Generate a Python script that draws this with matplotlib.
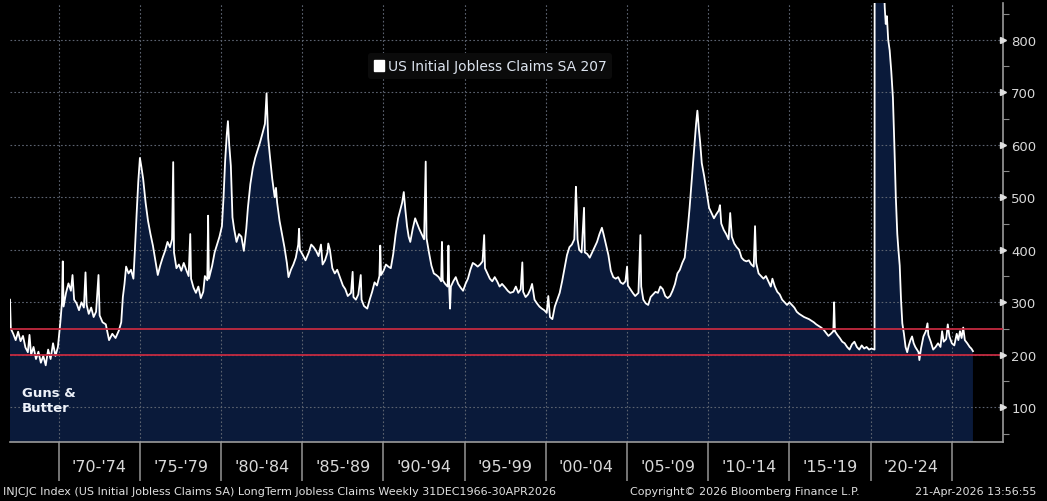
import matplotlib
matplotlib.use("Agg")
import matplotlib.pyplot as plt
from matplotlib.patches import Patch
import numpy as np

#------------------------------------ DATA ------------------------------------
# weekly-ish readings (thousands), fractional year -> claims
years = [
    1967.00, 1967.05, 1967.20, 1967.35, 1967.50, 1967.65, 1967.80, 1967.95,
    1968.10, 1968.20, 1968.30, 1968.45, 1968.60, 1968.75, 1968.90, 1969.05,
    1969.20, 1969.35, 1969.50, 1969.65, 1969.80, 1969.95, 1970.10, 1970.20,
    1970.25, 1970.30, 1970.45, 1970.60, 1970.75, 1970.85, 1970.95, 1971.10,
    1971.25, 1971.40, 1971.55, 1971.65, 1971.72, 1971.85, 1972.00, 1972.15,
    1972.30, 1972.45, 1972.52, 1972.70, 1972.90, 1973.10, 1973.30, 1973.50,
    1973.70, 1973.85, 1973.95, 1974.05, 1974.15, 1974.30, 1974.45, 1974.60,
    1974.70, 1974.80, 1974.90, 1975.00, 1975.08, 1975.20, 1975.35, 1975.50,
    1975.65, 1975.80, 1975.95, 1976.10, 1976.25, 1976.40, 1976.55, 1976.70,
    1976.85, 1976.98, 1977.05, 1977.10, 1977.25, 1977.40, 1977.55, 1977.70,
    1977.85, 1978.00, 1978.10, 1978.15, 1978.30, 1978.45, 1978.60, 1978.75,
    1978.90, 1979.00, 1979.15, 1979.20, 1979.25, 1979.45, 1979.60, 1979.75,
    1979.90, 1980.05, 1980.15, 1980.25, 1980.35, 1980.42, 1980.50, 1980.60,
    1980.70, 1980.80, 1980.95, 1981.10, 1981.25, 1981.40, 1981.55, 1981.65,
    1981.80, 1981.95, 1982.10, 1982.25, 1982.40, 1982.55, 1982.70, 1982.80,
    1982.90, 1983.00, 1983.15, 1983.30, 1983.38, 1983.45, 1983.60, 1983.75,
    1983.90, 1984.05, 1984.15, 1984.30, 1984.45, 1984.60, 1984.75, 1984.80,
    1984.85, 1985.00, 1985.20, 1985.40, 1985.55, 1985.70, 1985.85, 1986.00,
    1986.15, 1986.25, 1986.40, 1986.55, 1986.60, 1986.70, 1986.85, 1987.00,
    1987.15, 1987.35, 1987.50, 1987.65, 1987.80, 1988.00, 1988.10, 1988.15,
    1988.30, 1988.45, 1988.60, 1988.65, 1988.80, 1989.00, 1989.15, 1989.30,
    1989.45, 1989.60, 1989.75, 1989.80, 1989.85, 1990.00, 1990.15, 1990.30,
    1990.45, 1990.60, 1990.75, 1990.90, 1991.05, 1991.15, 1991.25, 1991.35,
    1991.45, 1991.55, 1991.65, 1991.80, 1991.95, 1992.05, 1992.20, 1992.35,
    1992.50, 1992.60, 1992.65, 1992.80, 1992.95, 1993.10, 1993.25, 1993.40,
    1993.55, 1993.60, 1993.65, 1993.80, 1993.95, 1994.00, 1994.05, 1994.10,
    1994.15, 1994.30, 1994.45, 1994.60, 1994.75, 1994.90, 1995.05, 1995.20,
    1995.35, 1995.50, 1995.65, 1995.80, 1995.95, 1996.10, 1996.20, 1996.25,
    1996.40, 1996.55, 1996.70, 1996.85, 1997.00, 1997.15, 1997.30, 1997.50,
    1997.65, 1997.80, 1998.00, 1998.15, 1998.30, 1998.45, 1998.55, 1998.60,
    1998.75, 1998.90, 1999.05, 1999.15, 1999.30, 1999.45, 1999.60, 1999.75,
    1999.90, 2000.05, 2000.15, 2000.25, 2000.40, 2000.55, 2000.70, 2000.85,
    2001.00, 2001.15, 2001.30, 2001.45, 2001.60, 2001.75, 2001.85, 2001.90,
    2001.95, 2002.05, 2002.20, 2002.35, 2002.40, 2002.55, 2002.70, 2002.85,
    2003.00, 2003.15, 2003.30, 2003.45, 2003.55, 2003.70, 2003.85, 2004.00,
    2004.15, 2004.30, 2004.45, 2004.60, 2004.75, 2004.90, 2005.00, 2005.05,
    2005.20, 2005.35, 2005.50, 2005.70, 2005.82, 2005.87, 2006.00, 2006.15,
    2006.30, 2006.45, 2006.60, 2006.75, 2006.90, 2007.05, 2007.20, 2007.35,
    2007.50, 2007.65, 2007.80, 2007.95, 2008.10, 2008.25, 2008.40, 2008.55,
    2008.65, 2008.75, 2008.85, 2008.95, 2009.05, 2009.15, 2009.25, 2009.33,
    2009.42, 2009.50, 2009.60, 2009.75, 2009.90, 2010.05, 2010.20, 2010.35,
    2010.50, 2010.65, 2010.72, 2010.80, 2010.95, 2011.10, 2011.25, 2011.35,
    2011.45, 2011.60, 2011.75, 2011.90, 2012.05, 2012.20, 2012.35, 2012.50,
    2012.65, 2012.80, 2012.88, 2012.95, 2013.10, 2013.25, 2013.40, 2013.55,
    2013.70, 2013.85, 2013.95, 2014.10, 2014.25, 2014.40, 2014.55, 2014.70,
    2014.85, 2015.00, 2015.15, 2015.30, 2015.45, 2015.60, 2015.75, 2015.90,
    2016.05, 2016.20, 2016.35, 2016.50, 2016.65, 2016.80, 2016.95, 2017.10,
    2017.25, 2017.40, 2017.55, 2017.70, 2017.75, 2017.80, 2017.95, 2018.10,
    2018.25, 2018.40, 2018.55, 2018.70, 2018.85, 2019.00, 2019.15, 2019.30,
    2019.45, 2019.60, 2019.75, 2019.90, 2020.05, 2020.24, 2020.26, 2020.28,
    2020.31, 2020.34, 2020.37, 2020.42, 2020.47, 2020.52, 2020.57, 2020.62,
    2020.67, 2020.72, 2020.77, 2020.82, 2020.87, 2020.93, 2021.00, 2021.08,
    2021.17, 2021.27, 2021.37, 2021.46, 2021.55, 2021.64, 2021.71, 2021.79,
    2021.87, 2021.95, 2022.05, 2022.15, 2022.25, 2022.35, 2022.45, 2022.55,
    2022.65, 2022.75, 2022.85, 2022.95, 2023.00, 2023.10, 2023.25, 2023.40,
    2023.50, 2023.55, 2023.70, 2023.85, 2024.00, 2024.15, 2024.30, 2024.40,
    2024.50, 2024.65, 2024.75, 2024.85, 2025.00, 2025.15, 2025.30, 2025.40,
    2025.50, 2025.60, 2025.70, 2025.80, 2025.95, 2026.10, 2026.20, 2026.30,
]
claims = [
    305, 250, 240, 228, 244, 226, 236, 214,
    205, 238, 200, 215, 192, 206, 185, 198,
    180, 210, 192, 222, 198, 215, 262, 300,
    378, 292, 318, 336, 322, 352, 305, 298,
    285, 300, 290, 357, 295, 278, 290, 272,
    282, 352, 275, 262, 258, 228, 240, 232,
    246, 262, 310, 335, 368, 355, 362, 345,
    405, 470, 530, 575, 560, 535, 490, 455,
    430, 408, 380, 352, 370, 385, 398, 415,
    405, 420, 567, 395, 365, 372, 360, 375,
    362, 350, 430, 345, 328, 318, 330, 308,
    320, 350, 342, 465, 345, 370, 395, 410,
    425, 445, 500, 570, 620, 645, 600, 560,
    462, 440, 415, 430, 425, 398, 440, 480,
    525, 555, 575, 590, 605, 622, 640, 698,
    612, 580, 535, 500, 518, 490, 455, 430,
    405, 375, 348, 362, 372, 385, 410, 440,
    400, 392, 380, 395, 410, 405, 398, 388,
    410, 372, 380, 395, 412, 400, 365, 355,
    362, 345, 332, 325, 312, 318, 358, 310,
    305, 315, 352, 305, 293, 288, 305, 320,
    338, 332, 350, 408, 352, 360, 372, 368,
    365, 392, 430, 460, 478, 490, 510, 475,
    445, 425, 415, 440, 460, 452, 440, 430,
    420, 568, 422, 395, 370, 355, 352, 348,
    340, 415, 342, 335, 330, 408, 325, 288,
    330, 340, 348, 335, 328, 322, 335, 345,
    362, 375, 372, 368, 372, 378, 428, 365,
    355, 345, 340, 348, 340, 330, 335, 328,
    322, 318, 320, 330, 318, 325, 376, 320,
    310, 315, 325, 335, 305, 298, 292, 288,
    285, 280, 312, 272, 268, 292, 305, 318,
    340, 365, 390, 405, 410, 420, 520, 480,
    420, 400, 395, 480, 395, 392, 385, 395,
    405, 415, 430, 442, 430, 410, 390, 360,
    348, 345, 348, 338, 335, 340, 368, 332,
    325, 318, 312, 318, 428, 330, 305, 298,
    295, 310, 315, 320, 318, 330, 325, 312,
    308, 312, 322, 335, 355, 362, 375, 385,
    415, 445, 480, 520, 560, 600, 640, 665,
    630, 605, 565, 540, 510, 480, 470, 460,
    468, 475, 485, 450, 438, 430, 420, 470,
    425, 412, 405, 400, 385, 380, 378, 380,
    372, 368, 445, 375, 355, 350, 345, 350,
    340, 330, 345, 330, 320, 315, 305, 300,
    295, 300, 295, 290, 282, 278, 275, 272,
    270, 268, 265, 262, 258, 255, 252, 248,
    242, 236, 240, 245, 300, 245, 238, 232,
    225, 222, 215, 210, 220, 225, 215, 210,
    218, 212, 215, 210, 212, 210, 2900, 6867,
    6600, 5000, 3800, 3000, 2400, 1900, 1500, 1400,
    1300, 1100, 950, 900, 860, 830, 845, 800,
    780, 740, 690, 600, 500, 430, 400, 370,
    305, 260, 240, 215, 205, 218, 228, 235,
    222, 215, 210, 205, 190, 212, 235, 245,
    260, 238, 225, 210, 215, 222, 215, 245,
    225, 230, 258, 235, 222, 218, 240, 228,
    245, 232, 252, 228, 222, 215, 212, 207,
]
period_ticks = [1970, 1975, 1980, 1985, 1990, 1995, 2000, 2005, 2010, 2015, 2020, 2025]
period_labels = ["'70-'74", "'75-'79", "'80-'84", "'85-'89", "'90-'94", "'95-'99",
                 "'00-'04", "'05-'09", "'10-'14", "'15-'19", "'20-'24"]
y_ticks = [100, 200, 300, 400, 500, 600, 700, 800]
ref_lines = [200, 250]
last_value = 207

#----------------------------------- FIGURE -----------------------------------
W, H = 1047, 502
fig = plt.figure(figsize=(W / 100, H / 100), dpi=100, facecolor='black')
ax = fig.add_axes([10 / W, 1 - 443 / H, 993 / W, 439 / H], facecolor='black')

navy = '#0a1a3a'
ax.fill_between(years, 0, claims, color=navy, lw=0, zorder=1)
ax.plot(years, claims, color='white', lw=1.3, zorder=4)
for v in ref_lines:
    ax.axhline(v, color='#c42a40', lw=1.3, zorder=5)

ax.set_xlim(1967.0, 2028.15)
ax.set_ylim(34, 870)

# grid
ax.set_yticks(y_ticks)
ax.set_xticks(period_ticks)
ax.grid(True, which='major', color='#5c6370', ls=(0, (1.5, 2)), lw=0.8, zorder=2)

# x axis: long separators, period labels in the middle
ax.set_xticks([t + 2.5 for t in period_ticks[:-1]], minor=True)
ax.set_xticklabels([], minor=False)
ax.set_xticklabels(period_labels, minor=True)
ax.tick_params(axis='x', which='major', direction='out', length=28, width=1.2, color='#8a8a8a')
ax.tick_params(axis='x', which='minor', length=0, pad=12, labelsize=11.5, labelcolor='#d8d8d8')

# y axis on the right
ax.yaxis.tick_right()
ax.set_yticks(np.arange(50, 851, 100), minor=True)
ax.tick_params(axis='y', which='major', length=0, pad=6, labelsize=9.5, labelcolor='#d8d8d8')
ax.tick_params(axis='y', which='minor', direction='out', length=4, width=0.8, color='#8a8a8a')
ax.plot([1.0] * len(y_ticks), y_ticks, ls='none', marker='>', ms=5, color='#e0e0e0',
        transform=ax.get_yaxis_transform(), clip_on=False, zorder=6)

for s in ['top', 'left']:
    ax.spines[s].set_visible(False)
for s in ['right', 'bottom']:
    ax.spines[s].set_color('#9a9a9a')
    ax.spines[s].set_linewidth(1.2)

# legend box
leg = fig.legend(handles=[Patch(facecolor='white', edgecolor='white')],
                 labels=['US Initial Jobless Claims SA %d' % last_value],
                 loc='center', bbox_to_anchor=(490 / W, 1 - 67 / H),
                 frameon=True, fontsize=10, handlelength=0.75, handleheight=0.85,
                 handletextpad=0.25, borderpad=0.4)
leg.get_frame().set_facecolor('#0b0b0b')
leg.get_frame().set_edgecolor('none')
leg.get_frame().set_alpha(1)
for t in leg.get_texts():
    t.set_color('#dde4ef')

fig.text(22 / W, 1 - 401 / H, "Guns &\nButter", color='#eef2fa', fontsize=9.5,
         fontweight='bold', ha='left', va='center', linespacing=1.25)

# footer
foot = dict(color='#e0e0e0', fontsize=8, va='center')
fig.text(3 / W, 1 - 492 / H,
         "INJCJC Index (US Initial Jobless Claims SA) LongTerm Jobless Claims Weekly 31DEC1966-30APR2026",
         ha='left', **foot)
fig.text(745 / W, 1 - 492 / H, "Copyright\u00a9 2026 Bloomberg Finance L.P.", ha='center', **foot)
fig.text(1036 / W, 1 - 492 / H, "21-Apr-2026 13:56:55", ha='right', **foot)

fig.savefig('out.png', dpi=100, facecolor='black')
